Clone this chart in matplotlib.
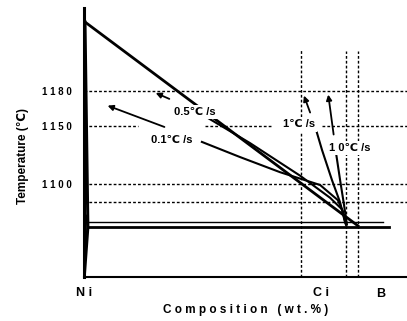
import matplotlib
matplotlib.use('Agg')
import matplotlib.pyplot as plt

# schematic Ni-B diagram, x = composition (arbitrary 0..100), y = temperature
xlim = (0, 100)
ylim = (1020, 1251)

ytick_vals = [1100, 1150, 1180]
ytick_labels = ['1 1 0 0', '1 1 5 0', '1 1 8 0']
xtick_vals = [0, 73.5]
xtick_labels = ['N i', 'C i']
b_label_x = 92.0

# dotted guide lines
hdash_full = [1180, 1100, 1084]
hdash_1150_segs = [(0, 16.7), (37.5, 58.2), (73.7, 100)]
vdot_x = [67.2, 81.1, 84.8]
vdot_top = [1216, 1214, 1214]

# horizontal solid lines (eutectic)
thin_T, thin_x = 1067, (0, 92.6)
thick_T, thick_x = 1063, (1.2, 94.4)

# equilibrium liquidus
liq_x = [0.3, 84.8]
liq_T = [1239, 1064]
# Ni solidus
sol_x = [0.3, 1.2, 0.1]
sol_T = [1239, 1063, 1021]
sol2_x = [0.8, 0.0]
sol2_T = [1073, 1021]

# non-equilibrium liquidus for each cooling rate
r01_x = [36.5, 48.3, 60.7, 73.1, 78.6, 80.2, 81.1]
r01_T = [1136, 1123, 1110, 1099, 1086, 1076, 1065]
r05_x = [37.5, 51.4, 66.9, 76.2, 79.9, 81.1]
r05_T = [1158, 1135, 1107, 1088, 1078, 1065]
r1_x = [72.1, 73.7, 76.8, 79.3, 80.8]
r1_T = [1144, 1129, 1103, 1084, 1067]
r10_x = [78.0, 79.3, 80.5, 81.4]
r10_T = [1127, 1103, 1082, 1065]

labels = ['0.5\u2103 /s', '0.1\u2103 /s', '1\u2103 /s', '1 0\u2103 /s']
label_pos = [(34.4, 1162), (27.2, 1138), (66.6, 1151), (82.4, 1131)]
arrow_tail = [(27.2, 1172), (25.7, 1148), (70.3, 1159), (77.4, 1140)]
arrow_head = [(21.4, 1179), (6.5, 1168), (67.8, 1178), (75.5, 1179)]

plt.rcParams['font.family'] = ['Liberation Sans', 'DejaVu Sans']

fig = plt.figure(figsize=(4.07, 3.21), dpi=100)
ax = fig.add_axes([84 / 407, 44 / 321, 323 / 407, 269 / 321])
ax.set_xlim(*xlim)
ax.set_ylim(*ylim)

dot = dict(color='black', linestyle=(0, (2, 1.5)), linewidth=1.0)
for T in hdash_full:
    ax.plot(xlim, [T, T], **dot)
for a, b in hdash_1150_segs:
    ax.plot([a, b], [1150, 1150], **dot)
for x, top in zip(vdot_x, vdot_top):
    ax.plot([x, x], [ylim[0], top], **dot)

ax.plot(thin_x, [thin_T, thin_T], color='black', lw=1.0)
ax.plot(thick_x, [thick_T, thick_T], color='black', lw=2.0)

ax.plot(liq_x, liq_T, color='black', lw=2.0)
ax.plot(sol_x, sol_T, color='black', lw=2.2)
ax.plot(sol2_x, sol2_T, color='black', lw=1.0)

for xs, ts in [(r01_x, r01_T), (r05_x, r05_T), (r1_x, r1_T), (r10_x, r10_T)]:
    ax.plot(xs, ts, color='black', lw=1.5)

for lab, pos in zip(labels, label_pos):
    ax.text(pos[0], pos[1], lab, ha='center', va='center', fontsize=8,
            fontweight='bold', zorder=5,
            bbox=dict(facecolor='white', edgecolor='none', pad=1.5))
for tail, head in zip(arrow_tail, arrow_head):
    ax.annotate('', xy=head, xytext=tail,
                arrowprops=dict(arrowstyle='-|>', color='black', lw=1.3,
                                mutation_scale=8))

ax.spines['top'].set_visible(False)
ax.spines['right'].set_visible(False)
ax.spines['left'].set_linewidth(2.2)
ax.spines['bottom'].set_linewidth(1.5)

ax.set_yticks(ytick_vals)
ax.set_yticklabels(ytick_labels, fontsize=7, fontweight='bold')
ax.set_xticks(xtick_vals)
ax.set_xticklabels(xtick_labels, fontsize=9, fontweight='bold')
ax.tick_params(axis='y', length=0, pad=9)
ax.tick_params(axis='x', length=0, pad=7)
ax.text(b_label_x, ylim[0] - 15, 'B', ha='center', va='center',
        fontsize=9, fontweight='bold')

ax.set_ylabel('Temperature (\u2103)', fontsize=8.5, fontweight='bold')
ax.yaxis.set_label_coords(-0.17, 0.45)
ax.set_xlabel('C o m p o s i t i o n   ( w t . % )', fontsize=8.5,
              fontweight='bold')
ax.xaxis.set_label_coords(0.5, -0.1)

fig.savefig('out.png', dpi=100)
